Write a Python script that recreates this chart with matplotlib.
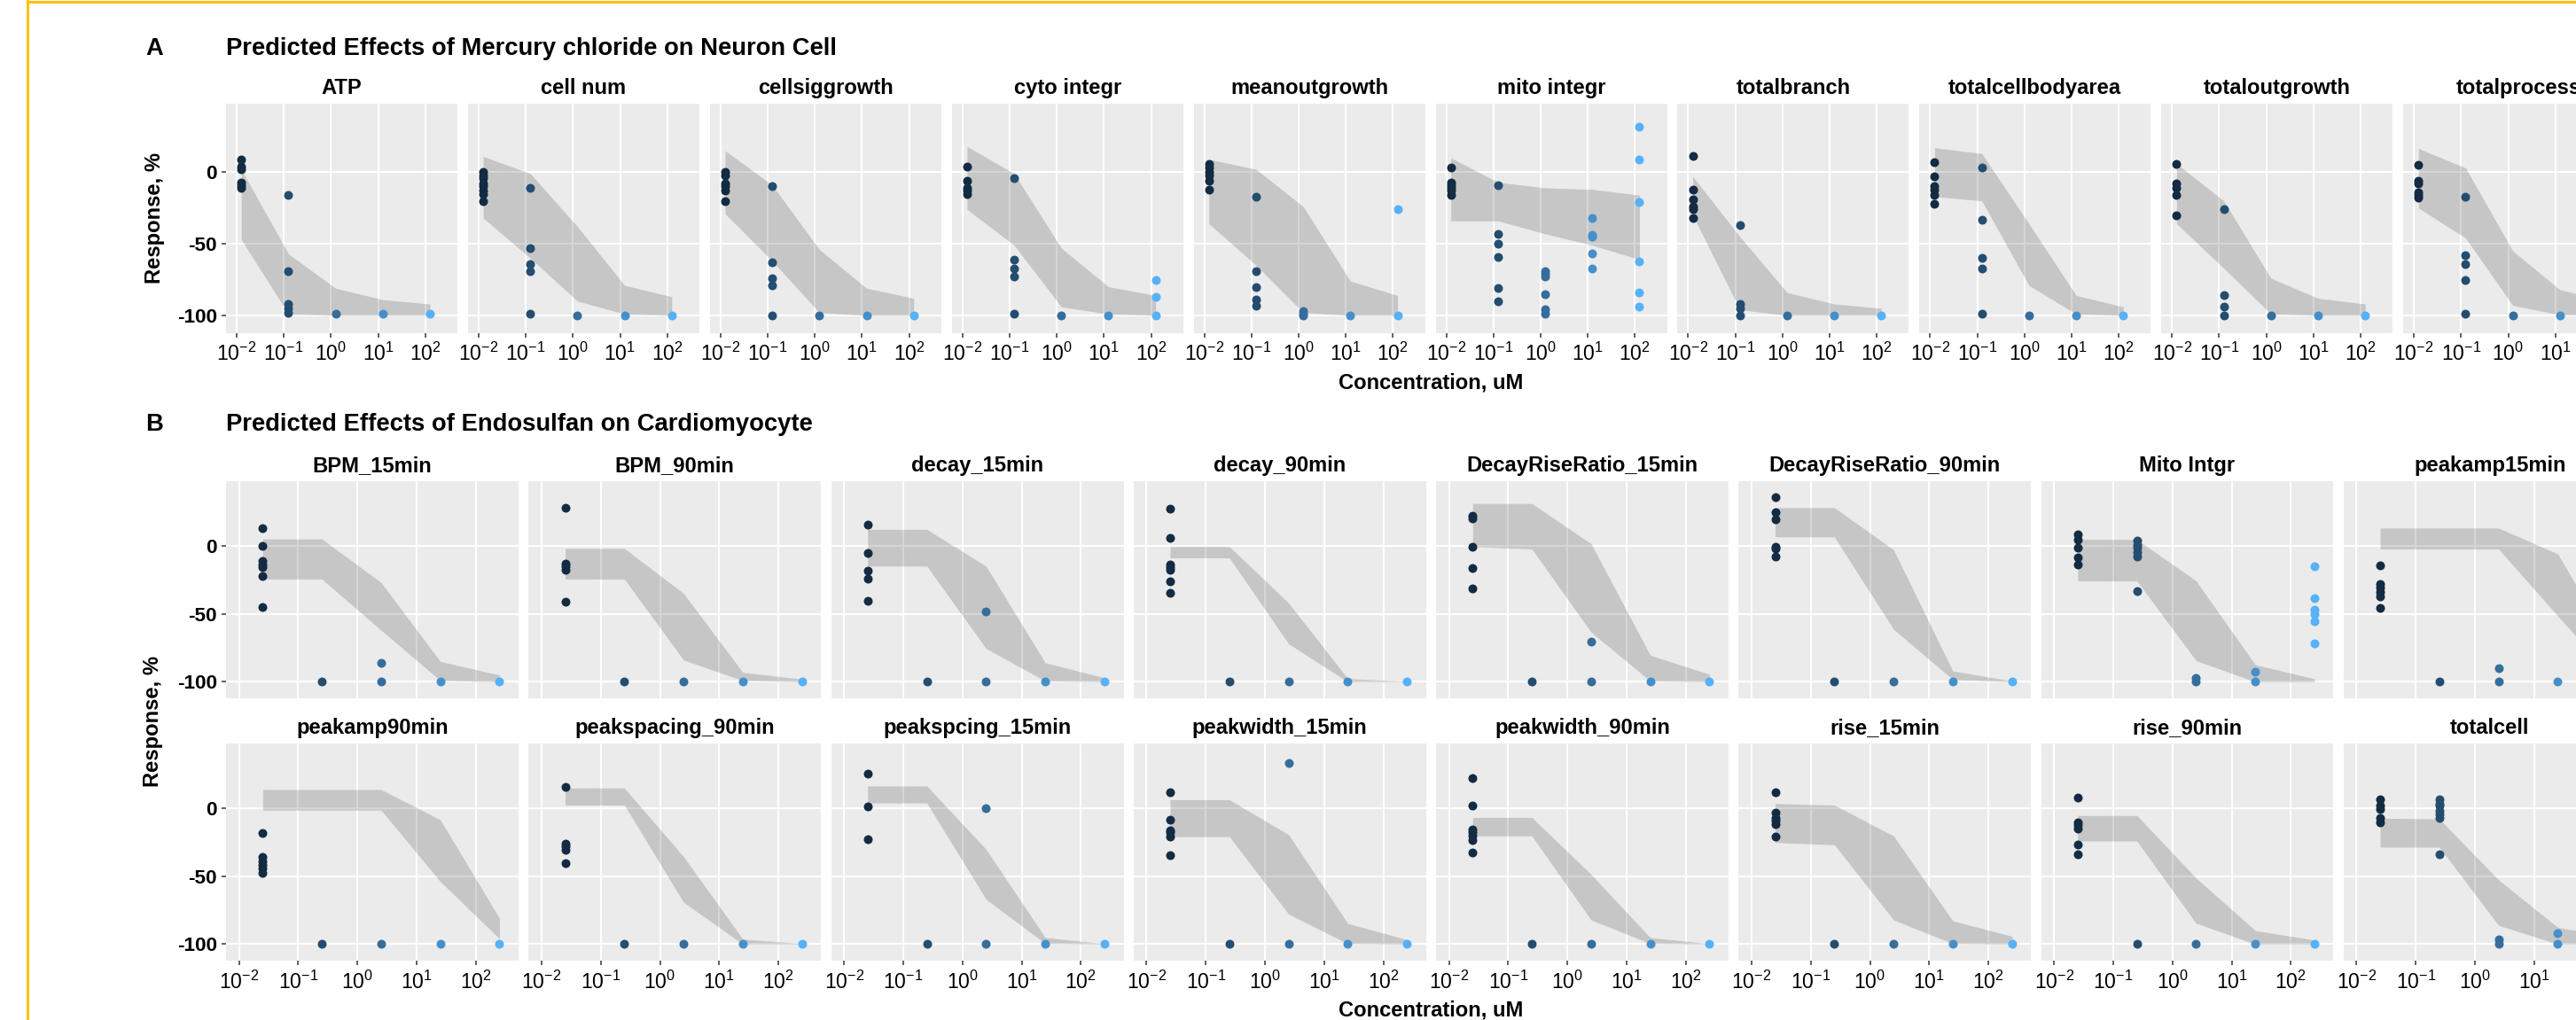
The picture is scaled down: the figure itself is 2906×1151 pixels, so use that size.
import matplotlib
matplotlib.use("Agg")
import matplotlib.pyplot as plt
from matplotlib.lines import Line2D
from matplotlib.colors import LinearSegmentedColormap

plt.rcParams['font.family'] = ['Liberation Sans', 'DejaVu Sans']
plt.rcParams['mathtext.fontset'] = 'custom'
plt.rcParams['mathtext.rm'] = 'Liberation Sans'
plt.rcParams['mathtext.it'] = 'Liberation Sans:italic'
plt.rcParams['mathtext.bf'] = 'Liberation Sans:bold'

# ---------------------------------------------------------------------------
# Concentrations (uM) and axis ticks
# ---------------------------------------------------------------------------
A_CONC = [0.0125, 0.125, 1.25, 12.5, 125]
B_CONC = [0.025, 0.25, 2.5, 25, 250]
X_TICKS = [1e-2, 1e-1, 1e0, 1e1, 1e2]
X_TICK_LABELS = [r'$10^{-2}$', r'$10^{-1}$', r'$10^{0}$', r'$10^{1}$', r'$10^{2}$']
Y_TICKS = [-100, -50, 0]
Y_TICK_LABELS = ['-100', '-50', '0']

# ---------------------------------------------------------------------------
# A: Mercury chloride on neuron cells  (points per concentration, band hi/lo)
# ---------------------------------------------------------------------------
atp_pts = [[9, 4, 2, -7, -9, -11], [-16, -69, -92, -95, -98], [-99], [-98.5], [-98.5]]
atp_hi = [2, -57, -81, -89, -92]
atp_lo = [-47, -99, -100, -100, -100]

cellnum_pts = [[0, -2, -4, -8, -10, -13, -15, -20], [-11, -53, -64, -69, -99], [-100], [-100], [-100]]
cellnum_hi = [11, -1, -38, -79, -87]
cellnum_lo = [-32, -60, -90, -99, -100]

cellsig_pts = [[0, -2, -8, -10, -13, -20], [-10, -63, -74, -79, -100], [-100], [-100], [-100]]
cellsig_hi = [15, -9, -54, -81, -88]
cellsig_lo = [-29, -62, -98, -100, -100]

cyto_pts = [[4, -6, -11, -13, -15], [-4, -61, -67, -73, -99], [-100], [-100], [-75, -87, -100]]
cyto_hi = [18, -1, -53, -80, -86]
cyto_lo = [-26, -51, -94, -99, -100]

meanout_pts = [[6, 3, 0, -2, -6, -12], [-17, -69, -80, -89, -93], [-97, -99, -100], [-100], [-26, -100]]
meanout_hi = [9, 2, -24, -76, -86]
meanout_lo = [-36, -65, -98, -100, -100]

mito_pts = [[3, -7, -9, -11, -13, -16], [-9, -43, -50, -59, -81, -90], [-69, -71, -73, -85, -96, -99],
            [-32, -44, -45, -57, -67], [32, 9, -21, -62, -84, -94]]
mito_hi = [10, -7, -11, -12, -16]
mito_lo = [-34, -34, -43, -51, -61]

branch_pts = [[11, -12, -19, -24, -26, -32], [-37, -92, -95, -100], [-100], [-100], [-100]]
branch_hi = [-3, -45, -84, -92, -95]
branch_lo = [-30, -96, -100, -100, -100]

bodyarea_pts = [[7, -3, -10, -12, -16, -22], [3, -33, -60, -67, -99], [-100], [-100], [-100]]
bodyarea_hi = [17, 13, -36, -86, -94]
bodyarea_lo = [-17, -20, -79, -99, -100]

totout_pts = [[6, -8, -11, -16, -30], [-26, -86, -94, -100], [-100], [-100], [-100]]
totout_hi = [6, -20, -74, -88, -92]
totout_lo = [-36, -67, -99, -100, -100]

totproc_pts = [[5, -6, -8, -14, -16, -18], [-17, -58, -64, -75, -99], [-100], [-100], [-100]]
totproc_hi = [16.5, 3, -55, -82, -90]
totproc_lo = [-25, -46, -93, -99.5, -100]

A_NAMES = ['ATP', 'cell num', 'cellsiggrowth', 'cyto integr', 'meanoutgrowth',
           'mito integr', 'totalbranch', 'totalcellbodyarea', 'totaloutgrowth', 'totalprocess']

# ---------------------------------------------------------------------------
# B: Endosulfan on cardiomyocytes
# ---------------------------------------------------------------------------
bpm15_pts = [[13, 0, -11, -14, -16, -22, -45], [-100], [-86, -100], [-100], [-100]]
bpm15_hi = [5, 5, -27, -85, -95]
bpm15_lo = [-24.5, -24.5, -62, -99, -100]

bpm90_pts = [[28, -13, -15, -18, -41], [-100], [-100], [-100], [-100]]
bpm90_hi = [-2, -2, -35, -93, -98]
bpm90_lo = [-24.5, -24.5, -84, -99, -100]

decay15_pts = [[15.6, -5.6, -18.4, -24.5, -40.6], [-100], [-48.4, -100], [-100], [-100]]
decay15_hi = [12, 12, -15, -86, -97]
decay15_lo = [-15, -15, -75.5, -99.4, -100]

decay90_pts = [[27, 6, -14, -16, -18, -26, -34.5], [-100], [-100], [-100], [-100]]
decay90_hi = [-0.6, -0.6, -42, -97.6, -99.5]
decay90_lo = [-8.9, -8.9, -72, -100, -100]

drr15_pts = [[22, 20, -1, -16.5, -31.7], [-100], [-70.7, -100], [-100], [-100]]
drr15_hi = [31, 31, 1.5, -80.5, -94.4]
drr15_lo = [-0.6, -2.4, -63.5, -99.4, -100]

drr90_pts = [[36, 24.3, 19.3, -0.6, -2.2, -7.8], [-100], [-100], [-100], [-100]]
drr90_hi = [28, 28, -3, -92, -99.4]
drr90_lo = [6.5, 6.5, -61.4, -98.3, -100]

mitoB_pts = [[8.5, 4.6, -1.5, -8.5, -13.7], [3.6, 0.6, -1.5, -4.5, -8.2, -33.4], [-97, -100],
             [-92.5, -100], [-15.2, -38.5, -47, -50, -55.5, -71.6]]
mitoB_hi = [4.6, 4.6, -25.8, -87.4, -97.7]
mitoB_lo = [-25.8, -25.8, -84.4, -100, -100]

pa15_pts = [[-14.5, -28, -31, -34, -37, -45.5], [-100], [-90, -100], [-100], [-100]]
pa15_hi = [13, 13, 13, -6, -80]
pa15_lo = [-2.4, -2.4, -2.4, -51.6, -100]

pa90_pts = [[-18.4, -35.7, -39, -41.8, -44.4, -47.6], [-100], [-100], [-100], [-100]]
pa90_hi = [13.6, 13.6, 13.6, -8.6, -81]
pa90_lo = [-1.5, -1.5, -1.5, -54, -96]

ps90_pts = [[15.8, -26.4, -28, -31, -40.6], [-100], [-100], [-100], [-100]]
ps90_hi = [14.7, 14.7, -35.7, -96.3, -99.5]
ps90_lo = [2.2, 2.2, -69.2, -100, -100]

ps15_pts = [[25.3, 1.1, -22.7], [-100], [0, -100], [-100], [-100]]
ps15_hi = [16.2, 16.2, -30.3, -95.2, -99.6]
ps15_lo = [3.7, 3.7, -67, -99.6, -100]

pw15_pts = [[11.3, -8.9, -16.2, -18, -21, -34.6], [-100], [33, -100], [-100], [-100]]
pw15_hi = [6.1, 6.1, -19.5, -84.8, -96.7]
pw15_lo = [-21, -21, -77.9, -99.6, -100]

pw90_pts = [[22, 2, -15.8, -18, -20.5, -23.8, -32.9], [-100], [-100], [-100], [-100]]
pw90_hi = [-6.9, -6.9, -48.7, -95.2, -99.6]
pw90_lo = [-20.5, -20.5, -82.2, -99.6, -100]

rise15_pts = [[11.3, -3.7, -7.1, -9, -12, -21], [-100], [-100], [-100], [-100]]
rise15_hi = [3.3, 2.2, -20.5, -82.9, -94.2]
rise15_lo = [-25.3, -27, -82.2, -99.6, -100]

rise90_pts = [[7.6, -10.5, -12.5, -15, -27, -34], [-100], [-100], [-100], [-100]]
rise90_hi = [-5.4, -5.4, -51.4, -90, -97]
rise90_lo = [-24.2, -24.2, -84.6, -100, -100]

tcell_pts = [[6.7, 1.6, -0.8, -7.5, -10.5], [6.7, 3, 1.6, -2, -5, -7.5, -34], [-96.8, -100],
             [-91.6, -100], [-100]]
tcell_hi = [-7.5, -8, -52.8, -87.7, -95]
tcell_lo = [-28.7, -28.7, -86.2, -100, -100]

B_NAMES = ['BPM_15min', 'BPM_90min', 'decay_15min', 'decay_90min',
           'DecayRiseRatio_15min', 'DecayRiseRatio_90min', 'Mito Intgr', 'peakamp15min',
           'peakamp90min', 'peakspacing_90min', 'peakspcing_15min', 'peakwidth_15min',
           'peakwidth_90min', 'rise_15min', 'rise_90min', 'totalcell']

A_SERIES = [(atp_pts, atp_hi, atp_lo), (cellnum_pts, cellnum_hi, cellnum_lo),
            (cellsig_pts, cellsig_hi, cellsig_lo), (cyto_pts, cyto_hi, cyto_lo),
            (meanout_pts, meanout_hi, meanout_lo), (mito_pts, mito_hi, mito_lo),
            (branch_pts, branch_hi, branch_lo), (bodyarea_pts, bodyarea_hi, bodyarea_lo),
            (totout_pts, totout_hi, totout_lo), (totproc_pts, totproc_hi, totproc_lo)]
B_SERIES = [(bpm15_pts, bpm15_hi, bpm15_lo), (bpm90_pts, bpm90_hi, bpm90_lo),
            (decay15_pts, decay15_hi, decay15_lo), (decay90_pts, decay90_hi, decay90_lo),
            (drr15_pts, drr15_hi, drr15_lo), (drr90_pts, drr90_hi, drr90_lo),
            (mitoB_pts, mitoB_hi, mitoB_lo), (pa15_pts, pa15_hi, pa15_lo),
            (pa90_pts, pa90_hi, pa90_lo), (ps90_pts, ps90_hi, ps90_lo),
            (ps15_pts, ps15_hi, ps15_lo), (pw15_pts, pw15_hi, pw15_lo),
            (pw90_pts, pw90_hi, pw90_lo), (rise15_pts, rise15_hi, rise15_lo),
            (rise90_pts, rise90_hi, rise90_lo), (tcell_pts, tcell_hi, tcell_lo)]

# ---------------------------------------------------------------------------
# Figure setup (pixel-based layout)
# ---------------------------------------------------------------------------
W, H, DPI = 2906, 1151, 100
fig = plt.figure(figsize=(W / DPI, H / DPI), dpi=DPI)
fig.patch.set_facecolor('white')

PT = 72.0 / DPI          # points per pixel
conc_cmap = LinearSegmentedColormap.from_list('conc', ['#132B43', '#56B1F7'])

TITLE_SIZE = 27.4 * PT
STRIP_SIZE = 23.8 * PT
AXTITLE_SIZE = 23.7 * PT
YTICK_SIZE = 22.5 * PT
XTICK_SIZE = 23.0 * PT
POINT_PX = 10.0


def px_axes(left, top, width, height):
    return fig.add_axes([left / W, 1 - (top + height) / H, width / W, height / H])


def fig_text(x, y, s, **kw):
    fig.text(x / W, 1 - y / H, s, **kw)


def draw_panel(ax, name, conc, pts, hi, lo, xlim, ylim, show_x, show_y):
    ax.set_facecolor('#EBEBEB')
    ax.set_xscale('log')
    ax.set_xlim(10 ** xlim[0], 10 ** xlim[1])
    ax.set_ylim(*ylim)
    for s in ax.spines.values():
        s.set_visible(False)
    for xv in X_TICKS:
        ax.axvline(xv, color='white', lw=2 * PT, zorder=0.5)
    for yv in Y_TICKS:
        ax.axhline(yv, color='white', lw=2 * PT, zorder=0.5)
    ax.fill_between(conc, lo, hi, color='#333333', alpha=0.2, lw=0, zorder=1)
    n = len(conc)
    for k, (c, vals) in enumerate(zip(conc, pts)):
        ax.scatter([c] * len(vals), vals, s=(POINT_PX * PT) ** 2,
                   color=conc_cmap(k / (n - 1)), linewidths=0, zorder=3)
    ax.set_xticks(X_TICKS)
    ax.xaxis.set_minor_locator(matplotlib.ticker.NullLocator())
    ax.set_yticks(Y_TICKS)
    ax.tick_params(axis='both', which='major', length=5 * PT, width=1.5 * PT,
                   color='#333333')
    ax.tick_params(axis='x', pad=6 * PT)
    ax.tick_params(axis='y', pad=5 * PT)
    if show_x:
        ax.set_xticklabels(X_TICK_LABELS, fontsize=XTICK_SIZE, color='black')
    else:
        ax.tick_params(axis='x', bottom=False, labelbottom=False)
    if show_y:
        ax.set_yticklabels(Y_TICK_LABELS, fontsize=YTICK_SIZE, fontweight='bold',
                           color='black')
    else:
        ax.tick_params(axis='y', left=False, labelleft=False)
    ax.text(0.5, 1 + 11 / (ax.get_position().height * H), name, transform=ax.transAxes,
            ha='center', va='baseline', fontsize=STRIP_SIZE, fontweight='bold')


# ---------------------------------------------------------------------------
# Section A
# ---------------------------------------------------------------------------
A_LEFT, A_STEP, A_W, A_TOP, A_H = 255, 272.9, 261, 117, 259
A_XLIM = (-2.226, 2.68)
A_YLIM = (-112.4, 47.8)
for i, (name, (pts, hi, lo)) in enumerate(zip(A_NAMES, A_SERIES)):
    ax = px_axes(A_LEFT + i * A_STEP, A_TOP, A_W, A_H)
    draw_panel(ax, name, A_CONC, pts, hi, lo, A_XLIM, A_YLIM, True, i == 0)

fig_text(164, 61.5, 'A', fontsize=TITLE_SIZE, fontweight='bold', ha='left', va='baseline')
fig_text(255, 61.5, 'Predicted Effects of Mercury chloride on Neuron Cell',
         fontsize=TITLE_SIZE, fontweight='bold', ha='left', va='baseline')
fig_text(174, A_TOP + A_H / 2, 'Response, %', fontsize=AXTITLE_SIZE, fontweight='bold',
         rotation=90, ha='center', va='center')
fig_text(1614, 439, 'Concentration, uM', fontsize=AXTITLE_SIZE, fontweight='bold',
         ha='center', va='baseline')

# ---------------------------------------------------------------------------
# Section B
# ---------------------------------------------------------------------------
B_LEFT, B_STEP, B_W, B_H = 255, 341.25, 330, 245
B_TOPS = [543.3, 839.3]
B_XLIM = (-2.22, 2.72)
B_YLIM = (-112.3, 47.2)
for idx, (name, (pts, hi, lo)) in enumerate(zip(B_NAMES, B_SERIES)):
    row, col = divmod(idx, 8)
    ax = px_axes(B_LEFT + col * B_STEP, B_TOPS[row], B_W, B_H)
    draw_panel(ax, name, B_CONC, pts, hi, lo, B_XLIM, B_YLIM, row == 1, col == 0)

fig_text(164, 486.5, 'B', fontsize=TITLE_SIZE, fontweight='bold', ha='left', va='baseline')
fig_text(255, 486.5, 'Predicted Effects of Endosulfan on Cardiomyocyte',
         fontsize=TITLE_SIZE, fontweight='bold', ha='left', va='baseline')
fig_text(172, (B_TOPS[0] + B_TOPS[1] + B_H) / 2, 'Response, %', fontsize=AXTITLE_SIZE,
         fontweight='bold', rotation=90, ha='center', va='center')
fig_text(1614, 1147, 'Concentration, uM', fontsize=AXTITLE_SIZE, fontweight='bold',
         ha='center', va='baseline')

# Frame lines along the top and left edges
fig.add_artist(Line2D([31 / W, 31 / W], [0, 1], transform=fig.transFigure,
                      color='#FFC000', lw=3 * PT))
fig.add_artist(Line2D([31 / W, 1], [1 - 2 / H, 1 - 2 / H], transform=fig.transFigure,
                      color='#FFC000', lw=3 * PT))

fig.savefig('out.png', dpi=DPI, facecolor='white')
